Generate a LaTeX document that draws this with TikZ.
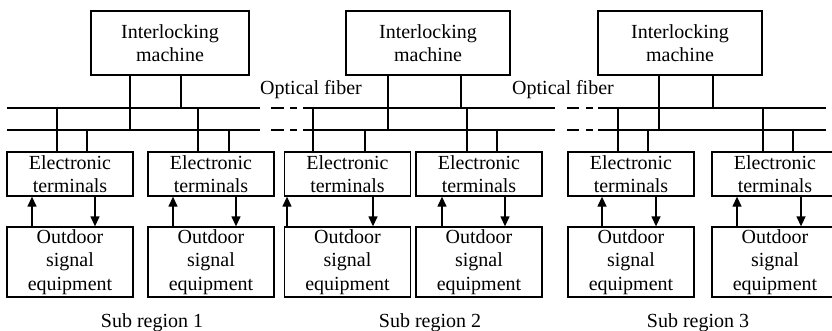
\documentclass[tikz,border=0pt]{standalone}
\usepackage{fontspec}
\setmainfont{Liberation Serif}
\usetikzlibrary{arrows.meta}
\begin{document}
\begin{tikzpicture}[x=1pt,y=-1pt,
  every node/.style={font=\fontsize{20}{23.5}\selectfont},
  boxstyle/.style={draw, line width=1.3pt, inner sep=0pt, align=center},
  imbox/.style={boxstyle, minimum height=64pt},
  etbox/.style={boxstyle, minimum width=126pt, minimum height=44pt},
  odbox/.style={boxstyle, minimum width=126pt, minimum height=70pt},
  wire/.style={line width=1.3pt},
  arr/.style={line width=1.3pt, -{Triangle[length=10pt,width=9pt]}},
  lbl/.style={inner sep=0pt}]
\useasboundingbox (0,0) rectangle (832,331);
% interlocking machines
\node[imbox, minimum width=158pt] (IM1) at (170,43) {Interlocking\\machine};
\node[imbox, minimum width=164pt] (IM2) at (428,43) {Interlocking\\machine};
\node[imbox, minimum width=164pt] (IM3) at (680,43) {Interlocking\\machine};
% electronic terminals and outdoor equipment
\foreach \i/\x in {1/70,2/211,3/347.5,4/479,5/631,6/775}{
  \node[etbox] (ET\i) at (\x,174) {Electronic\\terminals};
  \node[odbox] (OD\i) at (\x,262) {Outdoor\\signal\\equipment};
}
% buses
\foreach \y/\n in {108/T,130/B}{
  \coordinate (\n a1) at (7,\y);   \coordinate (\n a2) at (260,\y);
  \coordinate (\n b1) at (303,\y); \coordinate (\n b2) at (555,\y);
  \coordinate (\n c1) at (598,\y); \coordinate (\n c2) at (826,\y);
  \draw[wire] (\n a1) -- (\n a2);
  \draw[wire] (\n b1) -- (\n b2);
  \draw[wire] (\n c1) -- (\n c2);
  \coordinate (\n d1) at (271,\y); \coordinate (\n d2) at (284,\y);
  \coordinate (\n d3) at (290,\y); \coordinate (\n d4) at (297,\y);
  \coordinate (\n e1) at (567,\y); \coordinate (\n e2) at (579,\y);
  \coordinate (\n e3) at (586,\y); \coordinate (\n e4) at (593,\y);
  \draw[wire] (\n d1) -- (\n d2) (\n d3) -- (\n d4);
  \draw[wire] (\n e1) -- (\n e2) (\n e3) -- (\n e4);
}
% interlocking drops
\draw[wire] (IM1.south -| 130,0) -- (130,130);
\draw[wire] (IM1.south -| 181,0) -- (181,108);
\draw[wire] (IM2.south -| 388,0) -- (388,130);
\draw[wire] (IM2.south -| 461,0) -- (461,108);
\draw[wire] (IM3.south -| 659,0) -- (659,130);
\draw[wire] (IM3.south -| 713,0) -- (713,108);
% terminal drops
\foreach \i/\xt/\xb in {1/57/87,2/198/229,3/313/365,4/467/497,5/618/648,6/763/793}{
  \coordinate (top\i) at (\xt,108);
  \coordinate (bot\i) at (\xb,130);
  \draw[wire] (top\i) -- (top\i |- ET\i.north);
  \draw[wire] (bot\i) -- (bot\i |- ET\i.north);
}
% arrows
\foreach \i/\xu/\xd in {1/32/95,2/173/236,3/287/373,4/442/505,5/602/656,6/737/801}{
  \draw[arr] (OD\i.north -| \xu,0) -- (ET\i.south -| \xu,0);
  \draw[arr] (ET\i.south -| \xd,0) -- (OD\i.north -| \xd,0);
}
% labels
\node[lbl, anchor=base west] (of1) at (260,95) {Optical fiber};
\node[lbl, anchor=base west] (of2) at (512,95) {Optical fiber};
\node[lbl, anchor=base] (s1) at (152,327) {Sub region 1};
\node[lbl, anchor=base] (s2) at (430,327) {Sub region 2};
\node[lbl, anchor=base] (s3) at (698,327) {Sub region 3};
\end{tikzpicture}
\end{document}
